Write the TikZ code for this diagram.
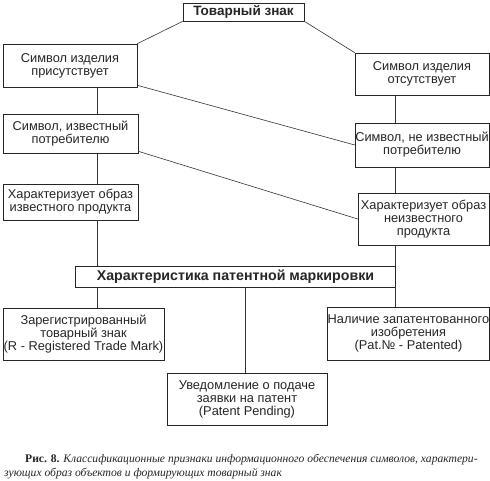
\documentclass[tikz,border=0pt]{standalone}
\usepackage{fontspec}
\setmainfont{Liberation Serif}
\newfontfamily\boxfont{Liberation Sans}
\usetikzlibrary{calc}
\begin{document}
\begin{tikzpicture}[x=1pt,y=-1pt,
  box/.style={draw=black!85, line width=0.6pt, rectangle, inner sep=0pt, align=center,
    text=black!85, font=\boxfont\fontsize{12.8}{13}\selectfont},
  boldbox/.style={box, font=\boxfont\bfseries\fontsize{13.5}{14}\selectfont},
  conn/.style={draw=black!80, line width=0.6pt}]
\useasboundingbox[fill=white] (0,0) rectangle (490,481);
% nodes
\node[boldbox, minimum width=121pt, minimum height=18pt] (top) at (243.5,12) {Товарный знак};
\node[box, minimum width=134pt, minimum height=43pt] (A1) at (70,65.5) {Символ изделия\\присутствует};
\node[box, minimum width=135pt, minimum height=39pt] (A2) at (70.5,133.5) {Символ, известный\\потребителю};
\node[box, minimum width=135pt, minimum height=36pt] (A3) at (70.5,202) {Характеризует образ\\известного продукта};
\node[box, minimum width=134pt, minimum height=42pt] (B1) at (422,74) {Символ изделия\\отсутствует};
\node[box, minimum width=134pt, minimum height=44pt] (B2) at (422,145) {Символ, не известный\\потребителю};
\node[box, minimum width=131pt, minimum height=52pt] (B3) at (423.5,219) {Характеризует образ\\неизвестного\\продукта};
\node[boldbox, font=\boxfont\bfseries\fontsize{14.2}{14}\selectfont, minimum width=320pt, minimum height=21pt] (M) at (235.5,276.5) {Характеристика патентной маркировки};
\node[box, minimum width=161pt, minimum height=52pt] (C1) at (83.5,334) {Зарегистрированный\\товарный знак\\(R - Registered Trade Mark)};
\node[box, minimum width=161pt, minimum height=53pt] (C3) at (408.5,333.5) {Наличие запатентованного\\изобретения\\(Pat.№ - Patented)};
\node[box, minimum width=160pt, minimum height=52pt] (D) at (247,399) {Уведомление о подаче\\заявки на патент\\(Patent Pending)};
% caption
\node[anchor=base west, inner sep=0pt, align=left,
  font=\fontsize{11.6}{14}\selectfont, text=black!85] (cap) at (4,476)
  {\hspace*{21pt}\textbf{Рис. 8.} \textit{Классификационные признаки информационного обеспечения символов, характери-}\\
   \textit{зующих образ объектов и формирующих товарный знак}};
% helper coordinates for vertical connectors
\coordinate (lx) at (97,0);
\coordinate (mx) at (245,0);
\coordinate (rx) at (395,0);
% connectors
\draw[conn] (top.south west) -- (A1.north east);
\draw[conn] (top.south east) -- (B1.north west);
\draw[conn] (lx |- A1.south) -- (lx |- A2.north);
\draw[conn] (lx |- A2.south) -- (lx |- A3.north);
\draw[conn] (lx |- A3.south) -- (lx |- M.north);
\draw[conn] (lx |- M.south) -- (lx |- C1.north);
\draw[conn] (mx |- M.south) -- (mx |- D.north);
\draw[conn] (rx |- B1.south) -- (rx |- B2.north);
\draw[conn] (rx |- B2.south) -- (rx |- B3.north);
\draw[conn] (rx |- B3.south) -- (rx |- M.north);
\draw[conn] (rx |- M.south) -- (rx |- C3.north);
\draw[conn] ($(A1.south east)+(0,-2)$) -- (B2.west);
\draw[conn] ($(A2.south east)+(0,-2)$) -- (B3.west);
\end{tikzpicture}
\end{document}
